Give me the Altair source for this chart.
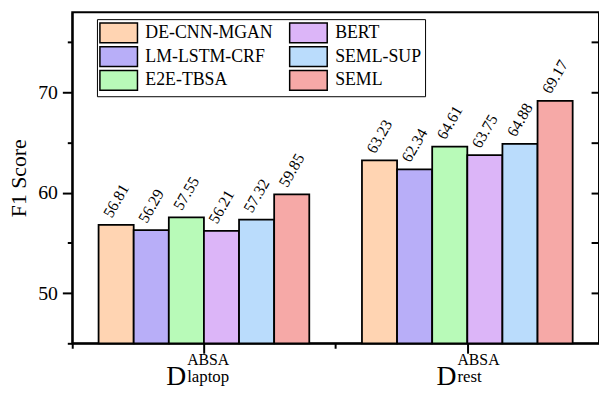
import altair as alt
import pandas as pd

datasets = ["laptop", "rest"]
models = ["DE-CNN-MGAN", "LM-LSTM-CRF", "E2E-TBSA", "BERT", "SEML-SUP", "SEML"]
laptop_f1 = [56.81, 56.29, 57.55, 56.21, 57.32, 59.85]
rest_f1 = [63.23, 62.34, 64.61, 63.75, 64.88, 69.17]
colors = ["#FFD4B2", "#B8AEF8", "#B8FAB8", "#DCB5F8", "#BADCFC", "#F6A9A7"]
y_major = [50, 60, 70]
y_minor = [45, 55, 65, 75]
y_all = [50, 55, 60, 65, 70, 75]

rows = []
for d, vals in zip(datasets, [laptop_f1, rest_f1]):
    for m, v in zip(models, vals):
        rows.append({"dataset": d, "model": m, "f1": v})
df = pd.DataFrame(rows)

SERIF = "Liberation Serif, Times New Roman, serif"
xscale = alt.Scale(paddingInner=0.2, paddingOuter=0.1)
yscale = alt.Scale(domain=[45, 78], nice=False, zero=False)

base = alt.Chart(df)

bars = base.mark_bar(stroke="black", strokeWidth=1.8).encode(
    x=alt.X("dataset:N", sort=datasets, scale=xscale, title=None,
            axis=alt.Axis(orient="bottom", labelExpr="'D'", labelFont=SERIF,
                          labelFontSize=28, labelColor="black", labelAngle=0,
                          labelAlign="right", labelBaseline="alphabetic",
                          labelOffset={"condition": {"test": "datum.value == 'rest'", "value": -11}, "value": -18},
                          labelPadding=42, ticks=False, domainColor="black", domainWidth=2)),
    xOffset=alt.XOffset("model:N", sort=models),
    y=alt.Y("f1:Q", scale=yscale, title="F1 Score", stack=None,
            axis=alt.Axis(orient="left", values=y_major, labelFont=SERIF, labelFontSize=20,
                          labelColor="black", labelPadding=5, tickSize=10, tickWidth=2,
                          tickColor="black", domainColor="black", domainWidth=2,
                          titleFont=SERIF, titleFontSize=22, titleFontWeight="normal",
                          titleColor="black", titlePadding=7)),
    color=alt.Color("model:N", scale=alt.Scale(domain=models, range=colors),
                    legend=alt.Legend(title=None, orient="none", legendX=25, legendY=7,
                                      columns=2, values=models,
                                      symbolType="M-1.9,-1H1.9V1H-1.9Z", symbolSize=400,
                                      symbolStrokeColor="black", symbolStrokeWidth=1.5,
                                      symbolOpacity=1, symbolOffset=8, labelOffset=16,
                                      labelFont=SERIF, labelFontSize=18, labelColor="black",
                                      padding=3, strokeColor="black", fillColor="white",
                                      columnPadding=14, rowPadding=-2)),
)

labels = base.mark_text(angle=300, align="left", baseline="middle", dx=3, dy=-12,
                        font=SERIF, fontSize=16, color="black").encode(
    x=alt.X("dataset:N", sort=datasets, scale=xscale, title=None,
            axis=alt.Axis(orient="bottom", labelExpr="'ABSA'", labelFont=SERIF,
                          labelFontSize=16, labelColor="black", labelAngle=0,
                          labelAlign="left", labelBaseline="alphabetic",
                          labelOffset={"condition": {"test": "datum.value == 'rest'", "value": -10}, "value": -17},
                          labelPadding=21, ticks=False, domain=False)),
    xOffset=alt.XOffset("model:N", sort=models),
    y=alt.Y("f1:Q", scale=yscale, title=None, stack=None,
            axis=alt.Axis(orient="left", values=y_minor, labels=False, tickSize=5,
                          tickWidth=2, tickColor="black", domain=False)),
    text=alt.Text("f1:Q", format=".2f"),
)

sub = base.mark_bar(opacity=0).encode(
    x=alt.X("dataset:N", sort=datasets, scale=xscale, title=None,
            axis=alt.Axis(orient="bottom", labelFont=SERIF, labelFontSize=17,
                          labelColor="black", labelAngle=0, labelAlign="left",
                          labelBaseline="alphabetic",
                          labelOffset={"condition": {"test": "datum.value == 'rest'", "value": -10}, "value": -17},
                          labelPadding=39, ticks=False, domain=False)),
    y=alt.Y("f1:Q", scale=yscale, title=None, stack=None,
            axis=alt.Axis(orient="right", values=y_all, labels=False, tickSize=8,
                          tickWidth=2, tickColor="black", domain=False, offset=-8)),
)

minor = base.mark_bar(opacity=0).encode(
    x=alt.X("dataset:N", sort=datasets, scale=xscale, title=None,
            axis=alt.Axis(orient="bottom", labels=False, domain=False, bandPosition=0,
                          tickOffset=-27, tickSize=5, tickWidth=2, tickColor="black")),
    y=alt.Y("f1:Q", scale=yscale, axis=None, stack=None),
)

major = base.mark_bar(opacity=0).encode(
    x=alt.X("dataset:N", sort=datasets, scale=xscale, title=None,
            axis=alt.Axis(orient="bottom", labels=False, domain=False, bandPosition=0.5,
                          tickOffset=0, tickSize=10, tickWidth=2, tickColor="black")),
    y=alt.Y("f1:Q", scale=yscale, axis=None, stack=None),
)

chart = alt.layer(bars, labels, sub, minor, major).resolve_axis(
    x="independent", y="independent"
).properties(
    width=533, height=335,
    autosize=alt.AutoSizeParams(type="none"),
    padding={"left": 65, "top": 2, "right": 0, "bottom": 47},
).configure_view(
    stroke="black", strokeWidth=2
).configure_axis(grid=False)

chart.save("out.html", embed_options={"renderer": "svg", "actions": False})
